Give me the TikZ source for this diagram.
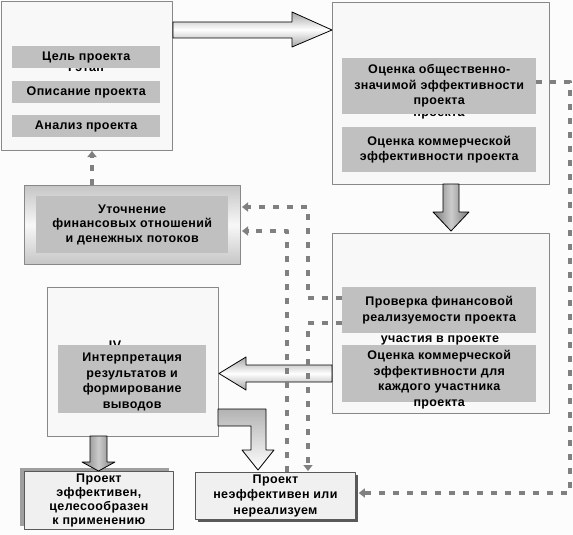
\documentclass[tikz,border=0pt]{standalone}
\usepackage{fontspec}
\setmainfont{Liberation Sans}[LetterSpace=3]
\usetikzlibrary{arrows.meta,shadows}
\definecolor{boxgray}{RGB}{192,192,192}
\definecolor{dashgray}{RGB}{128,128,128}
\definecolor{paper}{RGB}{248,248,248}
\definecolor{edgegray}{RGB}{136,136,136}
\begin{document}
\begin{tikzpicture}[x=1pt, y=-1pt, line join=round, >={Triangle[length=6pt,width=9pt]},
  font=\fontsize{12.5}{15.5}\selectfont\bfseries,
  stage/.style={draw=edgegray, fill=paper, line width=1pt, anchor=north west, inner sep=0pt},
  inbox/.style={fill=boxgray, anchor=north west, inner sep=0pt, align=center},
  ghost/.style={inner sep=0pt, align=center},
  dashline/.style={draw=dashgray, line width=4.5pt, dash pattern=on 6pt off 8pt},
  litearrow/.style={draw=black, line width=0.8pt, top color=gray!70, bottom color=gray!70, middle color=white},
  darkarrow/.style={draw=black, line width=0.8pt, left color=gray!95!black, right color=gray!95!black, middle color=gray!40},
  result/.style={draw=gray!70!black, line width=0.8pt, fill=gray!12, anchor=north west, inner sep=0pt, align=center}]
\useasboundingbox (0,0) rectangle (573,535);
\fill[white!99!black] (0,0) rectangle (573,535);

% I stage
\node[stage, minimum width=171pt, minimum height=149pt] (stage1) at (1,1) {};
\node[ghost] at (86,67) {I этап};
\node[inbox, minimum width=148pt, minimum height=22pt] (goal) at (12,46) {Цель проекта};
\node[inbox, minimum width=148pt, minimum height=22pt] (descr) at (12,81) {Описание проекта};
\node[inbox, minimum width=148pt, minimum height=22pt] (anal) at (12,115) {Анализ проекта};

% II stage
\node[stage, minimum width=217pt, minimum height=182pt] (stage2) at (332,2) {};
\node[ghost] at (439,114.5) {проекта};
\node[inbox, minimum width=194pt, minimum height=56pt] (social) at (342,58)
  {Оценка общественно-\\значимой эффективности\\проекта};
\node[inbox, minimum width=194pt, minimum height=45pt] (commerce) at (342,127)
  {Оценка коммерческой\\эффективности проекта};

% refinement
\node[draw=edgegray, line width=1pt, top color=gray!45, bottom color=gray!45, middle color=gray!6,
  anchor=north west, minimum width=216pt, minimum height=79pt] (refine) at (24,185) {};
\node[inbox, minimum width=192pt, minimum height=57pt, font=\fontsize{12.5}{14.5}\selectfont\bfseries]
  (refinein) at (36,196) {Уточнение\\финансовых отношений\\и денежных потоков};

% III stage
\node[stage, minimum width=217pt, minimum height=180pt] (stage4) at (332,233) {};
\node[inbox, minimum width=194pt, minimum height=46pt] (check) at (342,287)
  {Проверка финансовой\\реализуемости проекта};
\node[ghost] at (440,340) {участия в проекте};
\node[inbox, minimum width=194pt, minimum height=57pt] (partic) at (342,345) {};
\node[ghost, anchor=north] at (partic.north |- 0,350)
  {Оценка коммерческой\\эффективности для\\каждого участника\\проекта};

% IV stage
\node[stage, minimum width=171pt, minimum height=149pt] (stage5) at (47,287) {};
\node[ghost, anchor=north] at (115,340.5) {IV};
\node[inbox, minimum width=148pt, minimum height=68pt] (interp) at (58,345) {};
\node[ghost, anchor=north] at (interp.north |- 0,353)
  {Интерпретация\\результатов и\\формирование\\выводов};

% results
\node[result, minimum width=149pt, minimum height=58pt, font=\fontsize{12.5}{14}\selectfont\bfseries,
  drop shadow={shadow xshift=-4pt, shadow yshift=3pt, fill=gray!75, opacity=1}]
  (success) at (24,471) {Проект\\эффективен,\\целесообразен\\к применению};
\node[result, minimum width=160pt, minimum height=47pt,
  drop shadow={shadow xshift=3pt, shadow yshift=-3pt, fill=gray!70!black, opacity=1}]
  (fail) at (195,472) {Проект\\неэффективен или\\нереализуем};

% block arrows
\draw[litearrow] (stage1.east |- 0,22) -- (292,22) -- (292,12) -- (stage2.west |- 0,30)
  -- (292,47) -- (292,38) -- (stage1.east |- 0,38) -- cycle;
\draw[darkarrow] (443,184) -- (443,212) -- (433,212) -- (451,231) -- (469,212) -- (459,212) -- (459,184) -- cycle;
\draw[litearrow] (stage4.west |- 0,365) -- (246,365) -- (246,357) -- (stage5.east |- 0,373.5)
  -- (246,390) -- (246,382) -- (stage4.west |- 0,382) -- cycle;
\draw[draw=black, line width=0.8pt, top color=gray!60, bottom color=white]
  (218,409) -- (266,409) -- (266,450) -- (274,450) -- (258,470) -- (242,450) -- (251,450)
  -- (251,426) -- (218,426) -- cycle;
\draw[darkarrow] (90,436) -- (90,462) -- (82,462) -- (98.5,471) -- (115,462) -- (107,462) -- (107,436) -- cycle;

% dashed links
\coordinate (k1) at (92,151);
\coordinate (k2) at (570,82);
\coordinate (k3) at (570,493);
\coordinate (k4) at (308,298);
\coordinate (k5) at (308,207);
\coordinate (k6) at (287,231);
\coordinate (k7) at (308,323);
\draw[dashline, ->] (k1 |- refine.north) -- (k1);
\draw[dashline, ->] (k2 -| social.east) -- (k2) -- (k3) -- ([xshift=3pt]k3 -| fail.east);
\draw[dashline, ->] (k4 -| check.west) -- (k4) -- (k5) -- ([xshift=1pt]k5 -| refine.east);
\draw[dashline, ->] (k6 |- fail.north) -- (k6) -- ([xshift=1pt]k6 -| refine.east);
\draw[dashline, ->] (k7 -| check.west) -- (k7) -- ([yshift=1pt]k7 |- fail.north);
\end{tikzpicture}
\end{document}
